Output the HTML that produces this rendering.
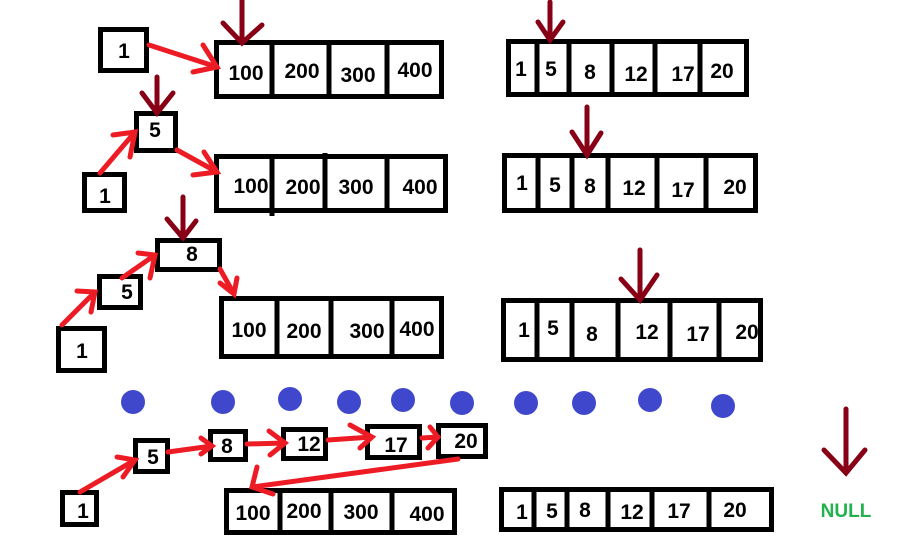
<!DOCTYPE html>
<html><head><meta charset="utf-8"><style>
html,body{margin:0;padding:0;background:#fff;}
svg{display:block;}
.b{fill:#fff;stroke:#000;stroke-width:5;}
.d{stroke:#000;stroke-width:5;}
.r{stroke:#ed1c24;stroke-width:5;stroke-linecap:round;fill:none;}
.k{stroke:#880015;stroke-width:5;stroke-linecap:round;fill:none;}
text{font-family:"Liberation Sans",sans-serif;font-weight:bold;font-size:21px;fill:#000;text-anchor:middle;}
.dot{fill:#3f48cc;}
</style></head><body>
<svg width="908" height="541" viewBox="0 0 908 541" xmlns="http://www.w3.org/2000/svg">
<rect width="908" height="541" fill="#fff"/>

<!-- Row 1 -->
<rect class="b" x="100.5" y="29.5" width="46" height="41"/>
<text x="124" y="58">1</text>
<rect class="b" x="216.5" y="42.5" width="225" height="54"/>
<line class="d" x1="272" y1="40" x2="272" y2="99"/>
<line class="d" x1="329" y1="40" x2="329" y2="99"/>
<line class="d" x1="387" y1="40" x2="387" y2="99"/>
<text x="246" y="80">100</text><text x="302" y="78">200</text><text x="358" y="82">300</text><text x="415" y="77">400</text>

<rect class="b" x="508.5" y="41.5" width="238" height="53"/>
<line class="d" x1="537" y1="39" x2="537" y2="97"/>
<line class="d" x1="569" y1="39" x2="569" y2="97"/>
<line class="d" x1="612" y1="39" x2="612" y2="97"/>
<line class="d" x1="655" y1="39" x2="655" y2="97"/>
<line class="d" x1="700" y1="39" x2="700" y2="97"/>
<text x="521" y="76">1</text><text x="551" y="76">5</text><text x="590" y="79">8</text><text x="636" y="81">12</text><text x="683" y="81">17</text><text x="722" y="78">20</text>

<path class="r" d="M149 45 L217 67 M193 72 L217 67 L203 45"/>
<path class="k" d="M242 0 L242 43 M223 23 L242 43 L262 25"/>
<path class="k" d="M550 2 L550 40 M538 22 L550 40 L563 22"/>

<!-- Row 2 -->
<rect class="b" x="136.5" y="113.5" width="39" height="37"/>
<text x="155" y="137">5</text>
<rect class="b" x="84.5" y="174.5" width="40" height="36"/>
<text x="105" y="203">1</text>
<rect class="b" x="216.5" y="156.5" width="229" height="54"/>
<line class="d" x1="272" y1="154" x2="272" y2="216"/>
<line class="d" x1="325" y1="153" x2="325" y2="213"/>
<line class="d" x1="387" y1="154" x2="387" y2="213"/>
<text x="251" y="193">100</text><text x="303" y="194">200</text><text x="356" y="194">300</text><text x="420" y="194">400</text>

<rect class="b" x="504.5" y="155.5" width="251" height="55"/>
<line class="d" x1="538" y1="153" x2="538" y2="213"/>
<line class="d" x1="572" y1="153" x2="572" y2="213"/>
<line class="d" x1="608" y1="153" x2="608" y2="213"/>
<line class="d" x1="657" y1="153" x2="657" y2="213"/>
<line class="d" x1="706" y1="153" x2="706" y2="213"/>
<text x="522" y="190">1</text><text x="555" y="192">5</text><text x="590" y="193">8</text><text x="634" y="195">12</text><text x="683" y="197">17</text><text x="735" y="194">20</text>

<path class="r" d="M100 173 L135 132 M113 135 L135 132 L130 157"/>
<path class="r" d="M177 150 L217 172 M193 175 L217 172 L204 152"/>
<path class="k" d="M157 77 L157 113 M142 93 L157 113 L173 93"/>
<path class="k" d="M587 107 L587 155 M572 132 L587 155 L601 133"/>

<!-- Row 3 -->
<rect class="b" x="157.5" y="240.5" width="62" height="29"/>
<text x="192" y="261">8</text>
<rect class="b" x="99.5" y="276.5" width="41" height="31"/>
<text x="127" y="299">5</text>
<rect class="b" x="58.5" y="328.5" width="46" height="42"/>
<text x="82" y="358">1</text>
<rect class="b" x="221.5" y="298.5" width="220" height="58"/>
<line class="d" x1="277" y1="296" x2="277" y2="359"/>
<line class="d" x1="331" y1="296" x2="331" y2="359"/>
<line class="d" x1="392" y1="296" x2="392" y2="359"/>
<text x="249" y="337">100</text><text x="304" y="338">200</text><text x="367" y="338">300</text><text x="417" y="336">400</text>

<rect class="b" x="503.5" y="300.5" width="257" height="59"/>
<line class="d" x1="537" y1="298" x2="537" y2="362"/>
<line class="d" x1="572" y1="298" x2="572" y2="362"/>
<line class="d" x1="618" y1="298" x2="618" y2="362"/>
<line class="d" x1="670" y1="298" x2="670" y2="362"/>
<line class="d" x1="719" y1="298" x2="719" y2="362"/>
<text x="524" y="337">1</text><text x="553" y="335">5</text><text x="592" y="341">8</text><text x="647" y="339">12</text><text x="698" y="341">17</text><text x="747" y="339">20</text>

<path class="r" d="M62 325 L95 292 M77 291 L95 292 L91 312"/>
<path class="r" d="M122 278 L155 255 M138 253 L155 255 L150 278"/>
<path class="r" d="M220 269 L234 294 M220 283 L234 294 L237 278"/>
<path class="k" d="M183 197 L183 238 M167 219 L183 238 L196 221"/>
<path class="k" d="M640 250 L640 300 M621 279 L640 300 L657 275"/>

<!-- Dots -->
<circle class="dot" cx="133" cy="402" r="12"/>
<circle class="dot" cx="223" cy="402" r="12"/>
<circle class="dot" cx="290" cy="399" r="12"/>
<circle class="dot" cx="349" cy="402" r="12"/>
<circle class="dot" cx="403" cy="400" r="12"/>
<circle class="dot" cx="462" cy="403" r="12"/>
<circle class="dot" cx="526" cy="403" r="12"/>
<circle class="dot" cx="584" cy="403" r="12"/>
<circle class="dot" cx="650" cy="400" r="12"/>
<circle class="dot" cx="723" cy="406" r="12"/>

<!-- Bottom row -->
<rect class="b" x="62.5" y="492.5" width="34" height="32"/>
<text x="83" y="518">1</text>
<rect class="b" x="135.5" y="440.5" width="32" height="31"/>
<text x="153" y="464">5</text>
<rect class="b" x="210.5" y="431.5" width="35" height="28"/>
<text x="227" y="453">8</text>
<rect class="b" x="283.5" y="429.5" width="42" height="29"/>
<text x="309" y="451">12</text>
<rect class="b" x="367.5" y="426.5" width="52" height="31"/>
<text x="396" y="452">17</text>
<rect class="b" x="438.5" y="425.5" width="47" height="31"/>
<text x="466" y="448">20</text>

<rect class="b" x="226.5" y="490.5" width="228" height="42"/>
<line class="d" x1="280" y1="488" x2="280" y2="535"/>
<line class="d" x1="331" y1="488" x2="331" y2="535"/>
<line class="d" x1="392" y1="488" x2="392" y2="530"/>
<text x="253" y="520">100</text><text x="304" y="518">200</text><text x="361" y="519">300</text><text x="427" y="521">400</text>

<rect class="b" x="501.5" y="489.5" width="270" height="40"/>
<line class="d" x1="534" y1="487" x2="534" y2="532"/>
<line class="d" x1="567" y1="487" x2="567" y2="532"/>
<line class="d" x1="608" y1="487" x2="608" y2="532"/>
<line class="d" x1="652" y1="487" x2="652" y2="532"/>
<line class="d" x1="709" y1="487" x2="709" y2="532"/>
<text x="522" y="519">1</text><text x="552" y="518">5</text><text x="585" y="517">8</text><text x="632" y="519">12</text><text x="679" y="518">17</text><text x="735" y="517">20</text>

<path class="r" d="M80 492 L135 460 M117 457 L135 460 L123 477"/>
<path class="r" d="M168 452 L212 446 M201 438 L212 446 L201 454"/>
<path class="r" d="M247 444 L285 443 M269 431 L285 443 L270 455"/>
<path class="r" d="M328 440 L372 437 M350 425 L372 437 L360 448"/>
<path class="r" d="M422 438 L438 437 M430 427 L438 437 L428 448"/>
<path class="r" d="M458 459 L252 487 M257 467 L252 487 L273 494"/>

<path class="k" d="M846 409 L846 473 M824 450 L846 473 L865 450"/>
<text x="846" y="517" style="fill:#22b14c;font-size:19px;">NULL</text>
</svg>
</body></html>
